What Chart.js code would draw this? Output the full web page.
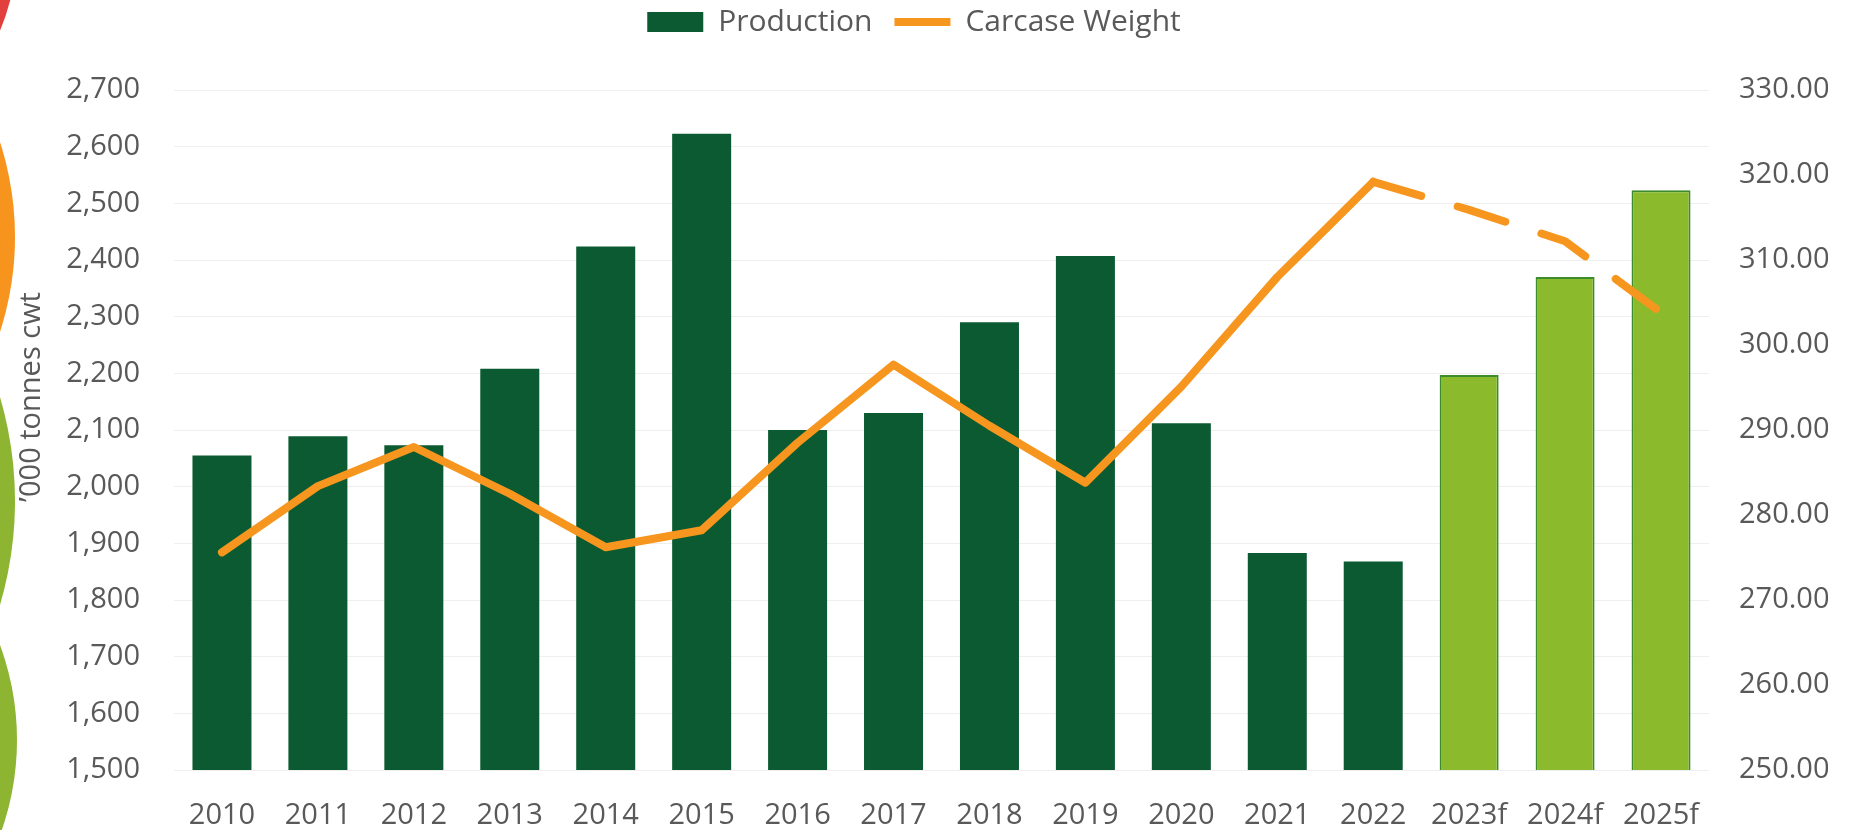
<!DOCTYPE html>
<html lang="en">
<head>
    <meta charset="UTF-8">
    <title>Production and Carcase Weight</title>
    <script src="https://cdn.jsdelivr.net/npm/chart.js"></script>
    <style>
        body {
            margin: 0;
            background: #ffffff;
            overflow: hidden;
        }

        .page {
            position: relative;
            width: 1860px;
            height: 830px;
        }

        /* bolitas de la pagina original, asomando por el borde izquierdo */
        .deco {
            position: absolute;
            border-radius: 50%;
        }

        canvas {
            position: absolute;
            left: 0;
            top: 0;
        }
    </style>
</head>
<body>
<div class="page">
    <div class="deco" style="left:-458px; top:-298px; width:476px; height:476px; background:#e2403c;"></div>
    <div class="deco" style="left:-601px; top:-71px; width:616px; height:616px; background:#f7941d;"></div>
    <div class="deco" style="left:-721px; top:133px; width:736px; height:736px; background:#8db531;"></div>
    <div class="deco" style="left:-531px; top:466px; width:548px; height:548px; background:#8db531;"></div>
    <canvas id="grafico" width="1860" height="830"></canvas>
</div>

<script>
    // datos
    const years = ['2010', '2011', '2012', '2013', '2014', '2015', '2016', '2017',
        '2018', '2019', '2020', '2021', '2022', '2023f', '2024f', '2025f'];
    const production = [2055, 2089, 2073, 2208, 2424, 2623, 2100, 2130,
        2290, 2407, 2112, 1883, 1868, 2197, 2370, 2523];
    const carcaseWeight = [275.6, 283.4, 288.0, 282.5, 276.2, 278.2, 288.5, 297.7,
        290.5, 283.8, 295.1, 308.0, 319.2, 315.9, 312.2, 303.8];
    const lastActual = 12; // 2022, a partir de aqui es pronostico

    const DARK_GREEN = '#0b5a31';
    const LIGHT_GREEN = '#8cba2d';
    const EDGE_GREEN = '#3d8c2c';
    const ORANGE = '#f7961f';
    const TEXT = '#595959';

    const isForecast = years.map(y => y.endsWith('f'));

    Chart.defaults.font.family = "'Open Sans', sans-serif";
    Chart.defaults.color = TEXT;

    // titulo del eje izquierdo, un poco mas arriba que el centro del area
    const tituloEje = {
        id: 'tituloEje',
        afterDraw(chart) {
            const ctx = chart.ctx;
            ctx.save();
            ctx.translate(32, 397);
            ctx.rotate(-Math.PI / 2);
            ctx.font = "29px 'Open Sans'";
            ctx.fillStyle = TEXT;
            ctx.textAlign = 'center';
            ctx.textBaseline = 'middle';
            ctx.fillText('\u2019000 tonnes cwt', 0, 0);
            ctx.restore();
        }
    };

    new Chart(document.getElementById('grafico'), {
        type: 'bar',
        data: {
            labels: years,
            datasets: [
                {
                    label: 'Production',
                    data: production,
                    yAxisID: 'y',
                    order: 1,
                    backgroundColor: isForecast.map(f => f ? LIGHT_GREEN : DARK_GREEN),
                    borderColor: isForecast.map(f => f ? EDGE_GREEN : DARK_GREEN),
                    borderWidth: isForecast.map(f => f ? 2 : 0),
                    borderSkipped: false,
                    pointStyle: 'rect',
                    categoryPercentage: 1,
                    barPercentage: 0.615
                },
                {
                    type: 'line',
                    label: 'Carcase Weight',
                    data: carcaseWeight,
                    yAxisID: 'y1',
                    order: 0,
                    borderColor: ORANGE,
                    backgroundColor: ORANGE,
                    borderWidth: 8,
                    borderCapStyle: 'round',
                    borderJoinStyle: 'round',
                    pointRadius: 0,
                    pointStyle: 'line',
                    tension: 0,
                    segment: {
                        borderDash: ctx => ctx.p0DataIndex >= lastActual ? [50, 38] : undefined
                    }
                }
            ]
        },
        options: {
            responsive: false,
            animation: false,
            layout: {
                padding: { top: -15, left: 0, right: 32, bottom: 0 }
            },
            plugins: {
                tooltip: { enabled: false },
                legend: {
                    position: 'top',
                    labels: {
                        usePointStyle: true,
                        pointStyleWidth: 56,
                        boxHeight: 20,
                        padding: 22,
                        color: TEXT,
                        font: { size: 30 },
                        sort: (a, b) => a.datasetIndex - b.datasetIndex
                    }
                }
            },
            scales: {
                x: {
                    grid: { display: false, drawTicks: false },
                    border: { display: false },
                    ticks: { font: { size: 29 }, padding: 28, maxRotation: 0, autoSkip: false },
                    afterFit: s => { s.height = 60; }
                },
                xTop: {
                    type: 'category',
                    position: 'top',
                    labels: years,
                    grid: { display: false },
                    border: { display: false },
                    ticks: { display: false },
                    afterFit: s => { s.height = 43; }
                },
                y: {
                    position: 'left',
                    min: 1500,
                    max: 2700,
                    grid: { color: '#efefef', drawTicks: false },
                    border: { display: false },
                    ticks: {
                        stepSize: 100,
                        padding: 34,
                        font: { size: 29 },
                        callback: v => v.toLocaleString('en-US')
                    },
                    afterFit: s => { s.width = 174; }
                },
                y1: {
                    position: 'right',
                    min: 250,
                    max: 330,
                    grid: { display: false, drawTicks: false },
                    border: { display: false },
                    ticks: {
                        stepSize: 10,
                        padding: 30,
                        font: { size: 29 },
                        callback: v => v.toFixed(2)
                    },
                    afterFit: s => { s.width = 119; }
                }
            }
        },
        plugins: [tituloEje]
    });
</script>
</body>
</html>
